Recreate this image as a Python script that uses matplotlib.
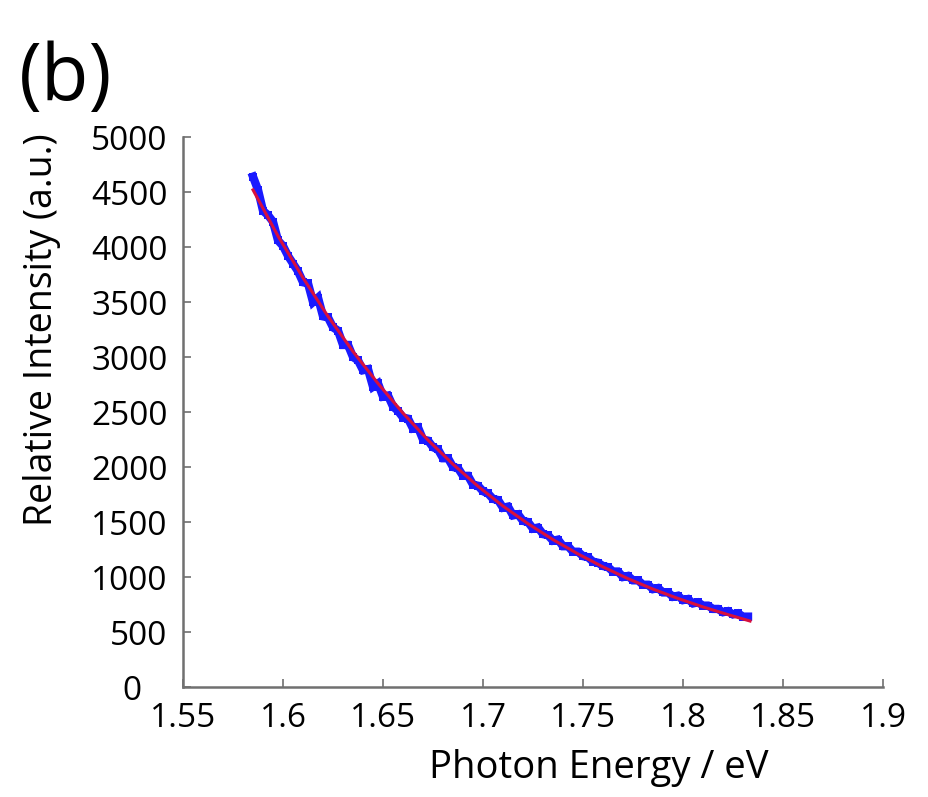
import numpy as np
import matplotlib.pyplot as plt

# measured spectrum (blue dots)
energy = [1.5850, 1.5875, 1.5900, 1.5925, 1.5950, 1.5975, 1.6000, 1.6025, 1.6050, 1.6075,
          1.6100, 1.6125, 1.6150, 1.6175, 1.6200, 1.6225, 1.6250, 1.6275, 1.6300, 1.6325,
          1.6350, 1.6375, 1.6400, 1.6425, 1.6450, 1.6475, 1.6500, 1.6525, 1.6550, 1.6575,
          1.6600, 1.6625, 1.6650, 1.6675, 1.6700, 1.6725, 1.6750, 1.6775, 1.6800, 1.6825,
          1.6850, 1.6875, 1.6900, 1.6925, 1.6950, 1.6975, 1.7000, 1.7025, 1.7050, 1.7075,
          1.7100, 1.7125, 1.7150, 1.7175, 1.7200, 1.7225, 1.7250, 1.7275, 1.7300, 1.7325,
          1.7350, 1.7375, 1.7400, 1.7425, 1.7450, 1.7475, 1.7500, 1.7525, 1.7550, 1.7575,
          1.7600, 1.7625, 1.7650, 1.7675, 1.7700, 1.7725, 1.7750, 1.7775, 1.7800, 1.7825,
          1.7850, 1.7875, 1.7900, 1.7925, 1.7950, 1.7975, 1.8000, 1.8025, 1.8050, 1.8075,
          1.8100, 1.8125, 1.8150, 1.8175, 1.8200, 1.8225, 1.8250, 1.8275, 1.8300, 1.8325]
intensity = [4640, 4520, 4330, 4290, 4230, 4060, 4010, 3920, 3850, 3780,
             3680, 3670, 3500, 3540, 3370, 3360, 3270, 3240, 3110, 3110,
             3000, 2970, 2880, 2890, 2730, 2760, 2640, 2650, 2550, 2510,
             2450, 2440, 2350, 2360, 2250, 2240, 2180, 2160, 2080, 2080,
             2000, 1990, 1920, 1920, 1840, 1830, 1780, 1760, 1710, 1700,
             1630, 1640, 1560, 1570, 1510, 1500, 1440, 1450, 1390, 1380,
             1330, 1340, 1280, 1280, 1230, 1230, 1190, 1180, 1140, 1130,
             1100, 1090, 1050, 1050, 1000, 1010, 970, 970, 930, 930,
             890, 900, 860, 860, 820, 830, 790, 800, 760, 770,
             740, 740, 710, 710, 680, 690, 660, 670, 640, 640]

# exponential fit (red line)
fit_energy = [1.5850, 1.5975, 1.6100, 1.6225, 1.6350, 1.6475, 1.6600, 1.6725, 1.6850, 1.6975,
              1.7100, 1.7225, 1.7350, 1.7475, 1.7600, 1.7725, 1.7850, 1.7975, 1.8100, 1.8225,
              1.8335]
fit_intensity = [4520, 4100, 3720, 3370, 3050, 2760, 2490, 2245, 2025, 1825,
                 1645, 1485, 1340, 1210, 1092, 985, 890, 805, 728, 658,
                 600]

xticks = [1.55, 1.6, 1.65, 1.7, 1.75, 1.8, 1.85, 1.9]
xticklabels = ['1.55', '1.6', '1.65', '1.7', '1.75', '1.8', '1.85', '1.9']
yticks = [0, 500, 1000, 1500, 2000, 2500, 3000, 3500, 4000, 4500, 5000]
yticklabels = ['0   ', '500', '1000', '1500', '2000', '2500', '3000', '3500', '4000', '4500', '5000']

plt.rcParams['font.family'] = ['Open Sans', 'DejaVu Sans']

fig = plt.figure(figsize=(9.29, 7.97), dpi=100)
ax = fig.add_axes([0.197, 0.138, 0.7535, 0.690])

ax.plot(energy, intensity, color='#1a1aff', lw=6, marker='s', ms=6,
        markeredgewidth=0, solid_joinstyle='miter')
ax.plot(fit_energy, fit_intensity, color='#d8103c', lw=2.2)

ax.set_xlim(1.55, 1.9)
ax.set_ylim(0, 5000)
ax.set_xticks(xticks)
ax.set_xticklabels(xticklabels)
ax.set_yticks(yticks)
ax.set_yticklabels(yticklabels)

for side in ['top', 'right']:
    ax.spines[side].set_visible(False)
for side in ['left', 'bottom']:
    ax.spines[side].set_color('#707070')
    ax.spines[side].set_linewidth(1.8)

ax.tick_params(axis='both', direction='in', length=6, width=1.2, color='#707070',
               labelsize=24)
ax.tick_params(axis='y', pad=11)
ax.tick_params(axis='x', pad=11)

fig.text(0.645, 0.036, 'Photon Energy / eV', fontsize=27.5, ha='center', va='center')
fig.text(0.045, 0.586, 'Relative Intensity (a.u.)', fontsize=27, rotation=90,
         ha='center', va='center')
fig.text(0.020, 0.900, '(b)', fontsize=56, ha='left', va='center')

fig.savefig('out.png', dpi=100)
